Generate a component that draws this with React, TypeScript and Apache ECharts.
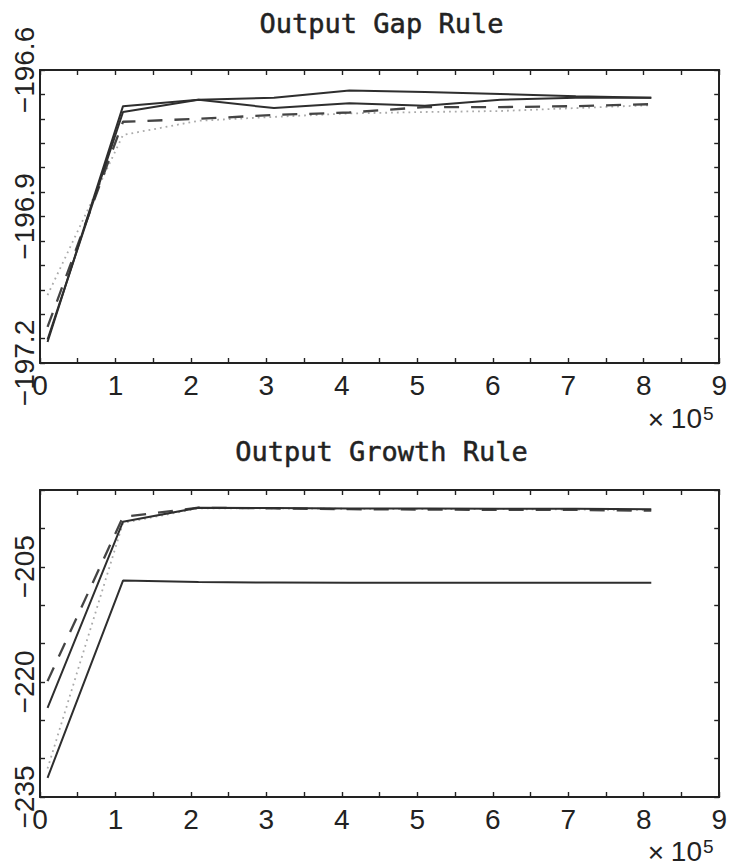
import React, { useEffect, useRef } from "react";
import * as echarts from "echarts";

// Sample sizes, in units of 10^5
const xs = [0.1, 1.1, 2.1, 3.1, 4.1, 5.1, 6.1, 7.1, 8.1];

// Output gap rule
const gapSolidA = [-197.157, -196.674, -196.661, -196.657, -196.642, -196.645, -196.649, -196.654, -196.657];
const gapSolidB = [-197.152, -196.686, -196.661, -196.678, -196.668, -196.673, -196.661, -196.657, -196.657];
const gapDashed = [-197.126, -196.706, -196.7, -196.692, -196.687, -196.676, -196.676, -196.674, -196.67];
const gapDotted = [-197.061, -196.733, -196.704, -196.696, -196.689, -196.686, -196.684, -196.678, -196.672];

// Output growth rule
const growthSolidA = [-223.4, -199.13, -197.3, -197.35, -197.4, -197.4, -197.45, -197.45, -197.5];
const growthSolidB = [-232.5, -206.8, -207.0, -207.05, -207.1, -207.1, -207.1, -207.1, -207.1];
const growthDashed = [-219.9, -198.5, -197.3, -197.4, -197.5, -197.55, -197.6, -197.6, -197.7];
const growthDotted = [-231.3, -199.3, -197.4, -197.4, -197.45, -197.5, -197.5, -197.55, -197.6];

const titles = ["Output Gap Rule", "Output Growth Rule"];
const yRanges = [
  { min: -197.2, max: -196.6, step: 0.05 },
  { min: -235, max: -195, step: 5 },
];
// Labelled y ticks of each panel
const gapYLabels = [-197.2, -196.9, -196.6];
const growthYLabels = [-235, -220, -205];
const yLabelSets = [gapYLabels, growthYLabels];
const yDecimals = [1, 0];
const xRange = { min: 0, max: 9, step: 0.5 };

const ink = "#222";
const labelFont = "Liberation Sans, Arial, sans-serif";
const titleFont = "DejaVu Sans Mono, monospace";

const pairs = (ys: number[]) => xs.map((x, i) => [x, ys[i]]);

const fmtY = (v: number, decimals: number) =>
  (v < 0 ? "\u2212" : "") + Math.abs(v).toFixed(decimals);

export default function App() {
  const ref = useRef<HTMLDivElement>(null);

  useEffect(() => {
    if (!ref.current) return;
    const chart = echarts.init(ref.current, null, { renderer: "svg" });

    const grids = [
      { left: 40, top: 70, width: 683, height: 293 },
      { left: 40, top: 490, width: 683, height: 307 },
    ];

    const tickStyle = { inside: true, length: 5, lineStyle: { color: ink, width: 1.4 } };
    const lineAxis = { show: true, onZero: false, lineStyle: { color: ink, width: 2 } };

    const xAxis: any[] = [];
    const yAxis: any[] = [];
    grids.forEach((_, g) => {
      ["bottom", "top"].forEach((pos) => {
        xAxis.push({
          type: "value",
          gridIndex: g,
          position: pos,
          min: xRange.min,
          max: xRange.max,
          interval: xRange.step,
          axisLine: lineAxis,
          axisTick: tickStyle,
          splitLine: { show: false },
          axisLabel: {
            show: pos === "bottom",
            fontSize: 28,
            fontFamily: labelFont,
            color: ink,
            margin: 8,
            formatter: (v: number) => (Math.abs(v - Math.round(v)) < 1e-6 ? String(Math.round(v)) : ""),
          },
        });
      });
      const yr = yRanges[g];
      ["left", "right"].forEach((pos) => {
        yAxis.push({
          type: "value",
          gridIndex: g,
          position: pos,
          min: yr.min,
          max: yr.max,
          interval: yr.step,
          axisLine: lineAxis,
          axisTick: tickStyle,
          splitLine: { show: false },
          axisLabel: { show: false },
        });
      });
    });

    const solid = (g: number, ys: number[]) => ({
      type: "line",
      xAxisIndex: g * 2,
      yAxisIndex: g * 2,
      data: pairs(ys),
      showSymbol: false,
      lineStyle: { color: "#2e2e2e", width: 2, type: "solid" },
    });
    const dashed = (g: number, ys: number[]) => ({
      type: "line",
      xAxisIndex: g * 2,
      yAxisIndex: g * 2,
      data: pairs(ys),
      showSymbol: false,
      lineStyle: { color: "#444", width: 2.3, type: [15, 12] },
    });
    const dotted = (g: number, ys: number[]) => ({
      type: "line",
      xAxisIndex: g * 2,
      yAxisIndex: g * 2,
      data: pairs(ys),
      showSymbol: false,
      lineStyle: { color: "#aaa", width: 1.8, type: [1.8, 4] },
    });

    const series = [
      dotted(0, gapDotted),
      dashed(0, gapDashed),
      solid(0, gapSolidA),
      solid(0, gapSolidB),
      dotted(1, growthDotted),
      dashed(1, growthDashed),
      solid(1, growthSolidA),
      solid(1, growthSolidB),
    ];

    const staticGraphic: any[] = [];
    grids.forEach((gr, g) => {
      staticGraphic.push({
        type: "text",
        x: gr.left + gr.width / 2,
        y: g === 0 ? 23 : 451,
        style: {
          text: titles[g],
          font: `27px ${titleFont}`,
          fill: ink,
          stroke: ink,
          lineWidth: 0.5,
          textAlign: "center",
          textVerticalAlign: "middle",
        },
      });
      // axis multiplier "× 10^5" under the right end of each x axis
      const baseY = Math.min(gr.top + gr.height + 55, 851);
      staticGraphic.push({
        type: "text",
        x: 656,
        y: baseY + 1,
        style: {
          text: "\u00d7",
          font: `28px ${labelFont}`,
          fill: ink,
          textAlign: "center",
          textVerticalAlign: "middle",
        },
      });
      staticGraphic.push({
        type: "text",
        x: 702,
        y: baseY,
        style: {
          text: "10",
          font: `28px ${labelFont}`,
          fill: ink,
          textAlign: "right",
          textVerticalAlign: "middle",
        },
      });
      staticGraphic.push({
        type: "text",
        x: 703,
        y: baseY - 14,
        style: {
          text: "5",
          font: `19px ${labelFont}`,
          fill: ink,
          textAlign: "left",
          textVerticalAlign: "top",
        },
      });
    });

    chart.setOption({
      animation: false,
      backgroundColor: "#fff",
      grid: grids.map((g) => ({ ...g, containLabel: false })),
      xAxis,
      yAxis,
      series,
      graphic: staticGraphic,
    });

    // Rotated y tick labels, placed through each panel's y scale
    const yLabelGraphic: any[] = [];
    yLabelSets.forEach((vals, g) => {
      vals.forEach((v) => {
        const py = chart.convertToPixel({ yAxisIndex: g * 2 }, v) as number;
        yLabelGraphic.push({
          type: "text",
          x: 38,
          y: py,
          rotation: Math.PI / 2,
          style: {
            text: fmtY(v, yDecimals[g]),
            font: `28px ${labelFont}`,
            fill: ink,
            textAlign: "center",
            textVerticalAlign: "bottom",
          },
        });
      });
    });
    chart.setOption({ graphic: [...staticGraphic, ...yLabelGraphic] });

    return () => chart.dispose();
  }, []);

  return (
    <div
      ref={ref}
      style={{ position: "absolute", left: 0, top: 0, width: 730, height: 868, background: "#fff" }}
    />
  );
}
